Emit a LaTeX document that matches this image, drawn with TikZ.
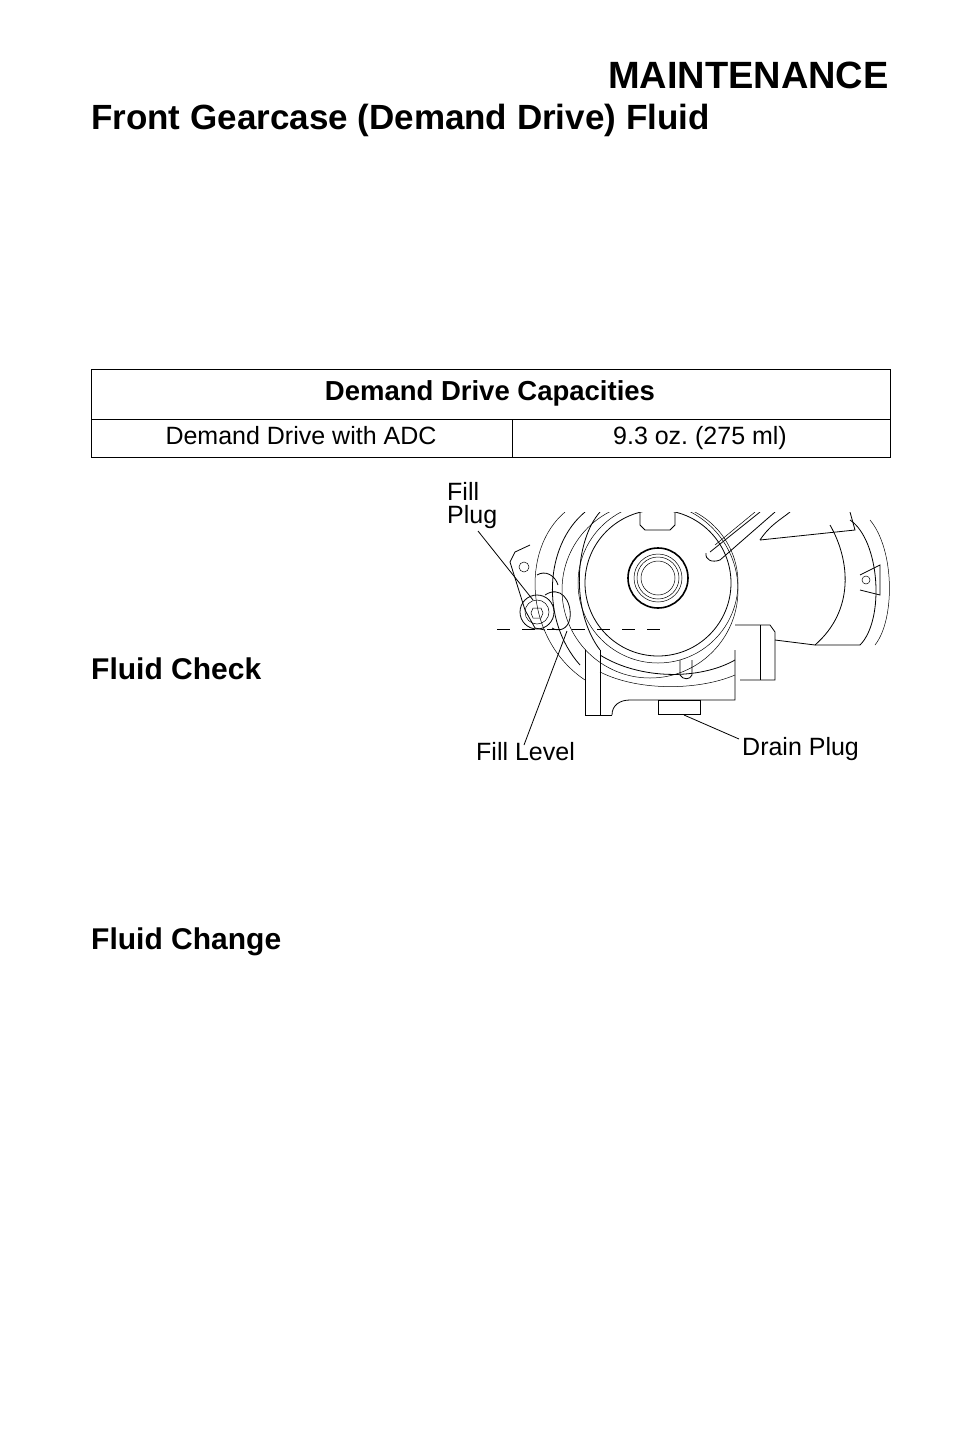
\documentclass[tikz,border=0pt]{standalone}
\usepackage{fontspec}
\setmainfont{Liberation Sans}
\frenchspacing
\begin{document}
\begin{tikzpicture}[x=1pt,y=-1pt,
  lbl/.style={inner sep=0pt,font=\fontsize{25}{26}\selectfont,align=left},
  part/.style={draw,line width=0.8pt},
  thin/.style={draw,line width=0.5pt},
  leader/.style={draw,line width=0.8pt}]
\useasboundingbox (0,0) rectangle (954,1454);
% headings
\node[inner sep=0pt,anchor=base east,font=\fontsize{38}{40}\selectfont\bfseries] (maint) at (889,88) {MAINTENANCE};
\node[inner sep=0pt,anchor=base west,font=\fontsize{35}{38}\selectfont\bfseries] (front) at (91,129) {Front Gearcase (Demand Drive) Fluid};
\node[inner sep=0pt,anchor=base west,font=\fontsize{30}{32}\selectfont\bfseries] (check) at (91,679) {Fluid Check};
\node[inner sep=0pt,anchor=base west,font=\fontsize{30}{32}\selectfont\bfseries] (change) at (91,949) {Fluid Change};
% table
\draw[line width=0.8pt] (91,369) rectangle (890,457);
\draw[line width=0.8pt] (91,419) -- (890,419);
\draw[line width=0.8pt] (512,419) -- (512,457);
\node[inner sep=0pt,anchor=base,font=\fontsize{27.5}{30}\selectfont\bfseries] (th) at (490,400) {Demand Drive Capacities};
\node[inner sep=0pt,anchor=base,font=\fontsize{25}{26}\selectfont] (t1) at (301,444) {Demand Drive with ADC};
\node[inner sep=0pt,anchor=base,font=\fontsize{25}{26}\selectfont] (t2) at (700,444) {9.3 oz. (275 ml)};
% gearcase drawing
\begin{scope}
\clip (440,512) rectangle (900,740);
\draw[part] (585,512) .. controls (545,545) and (540,620) .. (580,665);
\draw[thin] (565,512) .. controls (520,550) and (525,640) .. (585,680);
\draw[part] (600,512) .. controls (575,540) and (570,610) .. (600,650);
\draw[part] (658,583) circle (73);
\draw[thin] (658,583) circle (80);
\draw[thin] (650,590) circle (88);
\draw[part] (640,512) -- (640,525) -- (645,530) -- (670,530) -- (675,525) -- (675,512);
\draw[line width=1.6pt] (658,578) circle (30);
\draw[thin] (658,578) circle (24);
\draw[thin] (658,578) circle (21);
\draw[thin] (658,578) circle (17);
\draw[part] (710,552) -- (760,512);
\draw[part] (720,560) -- (775,512);
\draw[thin] (715,545) -- (755,512);
\draw[part] (706,553) .. controls (705,560) and (712,563) .. (720,560);
\draw[part] (760,540) -- (855,530) -- (850,512);
\draw[part] (760,540) .. controls (770,525) and (780,520) .. (790,512);
\draw[part] (850,520) .. controls (880,540) and (885,620) .. (860,645);
\draw[part] (830,525) .. controls (850,560) and (855,610) .. (815,645);
\draw[thin] (870,520) .. controls (895,550) and (895,620) .. (875,645);
\draw[part] (775,640) -- (815,645) -- (860,645);
\draw[part] (860,575) -- (880,565) -- (880,595) -- (860,590);
\draw[thin] (866,580) circle (4);
% lower housing
\draw[part] (585,650) -- (585,715) -- (612,715);
\draw[thin] (600,650) -- (600,715);
\draw[part] (612,715) .. controls (612,705) and (620,700) .. (630,700) -- (735,700) -- (735,650);
\draw[part] (600,655) .. controls (640,680) and (700,680) .. (735,660);
\draw[thin] (600,672) .. controls (640,692) and (700,690) .. (735,675);
\draw[part] (735,625) -- (770,625) -- (775,632) -- (775,680) -- (740,680);
\draw[thin] (760,625) -- (760,680);
\draw[part] (680,660) -- (680,675) .. controls (683,680) and (690,680) .. (692,675) -- (692,660);
\draw[part] (658,700) rectangle (700,714);
% left flange and fill plug
\draw[part] (530,545) -- (515,552) -- (510,562) -- (525,610) -- (535,628) -- (545,630);
\draw[thin] (524,567) circle (5);
\draw[part] (537,612) circle (17);
\draw[thin] (537,612) circle (12);
\draw[thin] (533,608) -- (541,608) -- (543,613) -- (541,618) -- (533,618) -- (531,613) -- cycle;
\draw[part] (545,595) .. controls (560,585) and (572,600) .. (570,618) .. controls (568,630) and (558,632) .. (552,628);
\draw[part] (537,575) .. controls (545,570) and (555,575) .. (558,585);
\draw[line width=1pt,dash pattern=on 13pt off 12pt] (497,629) -- (663,629);
\end{scope}
% labels
\node[lbl,anchor=north west] (fp) at (447,482) {Fill\\[-3pt]Plug};
\node[lbl,anchor=base west] (fl) at (476,760) {Fill Level};
\node[lbl,anchor=base west] (dp) at (742,755) {Drain Plug};
\coordinate (fpT) at (533,600);
\coordinate (flT) at (567,631);
\coordinate (dpT) at (684,715);
\draw[leader] (478,531) -- (fpT);
\draw[leader] (524,745) -- (flT);
\draw[leader] (739,739) -- (dpT);
\end{tikzpicture}
\end{document}
